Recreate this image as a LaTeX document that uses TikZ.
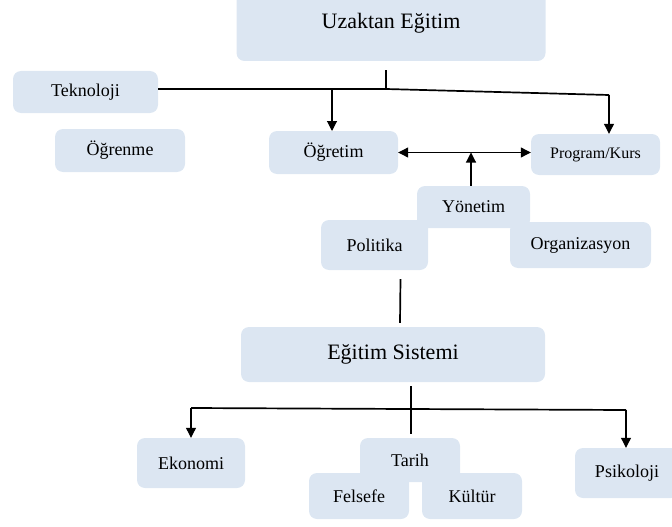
\documentclass[tikz,border=0pt]{standalone}
\usepackage{fontspec}
\setmainfont{LiberationSerif}[Extension=.ttf, UprightFont=*-Regular, BoldFont=*-Bold, ItalicFont=*-Italic, BoldItalicFont=*-BoldItalic]
\usetikzlibrary{arrows.meta}
\definecolor{boxblue}{HTML}{DCE6F2}
\begin{document}
\begin{tikzpicture}[x=1pt,y=-1pt,
  box/.style={fill=boxblue, rounded corners=8pt, inner sep=0pt, text=black, font=\fontsize{18}{20}\selectfont, align=center},
  big/.style={font=\fontsize{22}{24}\selectfont},
  small/.style={font=\fontsize{16}{18}\selectfont},
  mainline/.style={line width=1.7pt, black},
  arr/.style={line width=1.1pt, black, -{Triangle[length=10pt,width=10pt]}},
  darr/.style={line width=1.1pt, black, {Triangle[length=10pt,width=10pt]}-{Triangle[length=10pt,width=10pt]}},
]
\useasboundingbox (0,0) rectangle (672,527);

% top level
\node[box, big, minimum width=309pt, minimum height=75pt] (uzaktan) at (391,23.5) {Uzaktan Eğitim};
\node[box, minimum width=145pt, minimum height=42pt] (tek) at (85.5,92) {Teknoloji};
\node[box, minimum width=130pt, minimum height=43pt] (ogrenme) at (120,150.5) {Öğrenme};
\node[box, minimum width=129pt, minimum height=43pt] (ogretim) at (333.5,152.5) {Öğretim};
\node[box, small, minimum width=129pt, minimum height=41pt] (program) at (595.5,154.5) {Program/Kurs};

% management cluster
\node[box, minimum width=113pt, minimum height=42pt] (yonetim) at (473.5,207) {Yönetim};
\node[box, minimum width=107pt, minimum height=50pt] (politika) at (374.5,245) {Politika};
\node[box, minimum width=141pt, minimum height=46pt] (organizasyon) at (580.5,245) {Organizasyon};

% education system
\node[box, big, minimum width=304pt, minimum height=55pt] (egitim) at (393,354.5) {Eğitim Sistemi};
\node[box, minimum width=108pt, minimum height=50pt] (ekonomi) at (191,463) {Ekonomi};
\node[box, minimum width=100pt, minimum height=44pt] (tarih) at (410,460) {Tarih};
\node[box, minimum width=100pt, minimum height=46pt] (felsefe) at (359,496) {Felsefe};
\node[box, minimum width=100pt, minimum height=46pt] (kultur) at (472,496) {Kültür};
\node[box, minimum width=104pt, minimum height=50pt] (psikoloji) at (627,473) {Psikoloji};

% connectors, top
\coordinate (j1) at (386,89);
\coordinate (j2) at (609,95);
\draw[mainline] ([xshift=-5pt,yshift=-9pt]uzaktan.south) -- (j1);
\draw[mainline] (tek.east |- j1) -- (j1) -- (j2);
\draw[arr] (332,89.5) -- (332,131);
\draw[arr] (j2) -- (j2 |- program.north);
\draw[darr] (ogretim.east) -- (ogretim.east -| program.west);
\coordinate (mid) at (471,152.5);
\draw[arr] (yonetim.north -| mid) -- (mid);

% connectors, bottom
\draw[mainline] ([xshift=26pt,yshift=-9pt]politika.south) -- ([xshift=7pt,yshift=4pt]egitim.north);
\draw[mainline] ([xshift=18pt,yshift=-4pt]egitim.south) -- ([xshift=1pt,yshift=4pt]tarih.north);
\coordinate (k1) at (191,408);
\coordinate (k2) at (626,410);
\draw[mainline] (k1) -- (k2);
\draw[arr] (k1) -- (ekonomi.north);
\draw[arr] (k2) -- (k2 |- psikoloji.north);
\end{tikzpicture}
\end{document}
